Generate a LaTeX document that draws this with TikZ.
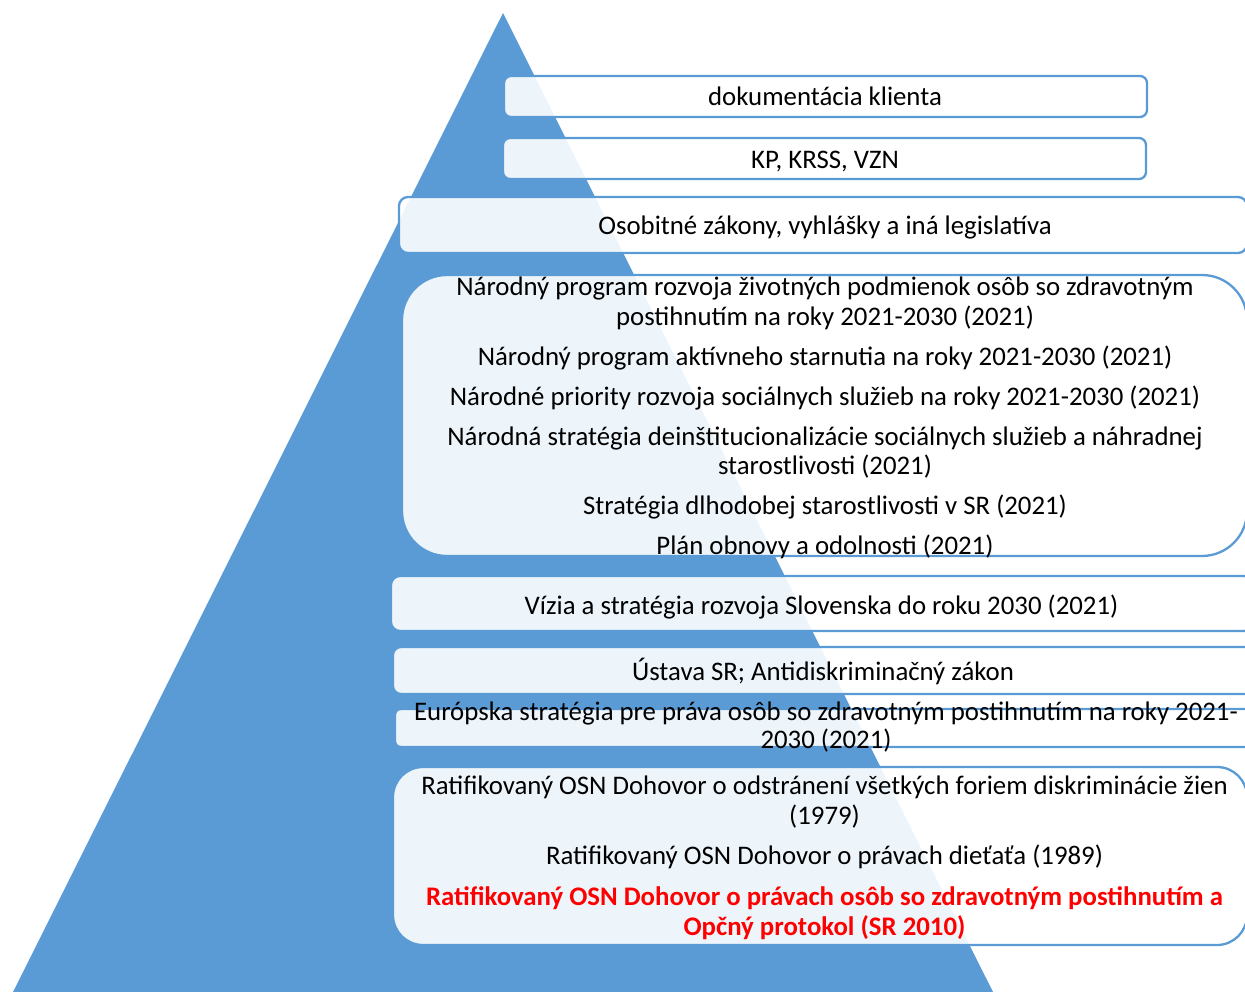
\documentclass[tikz,border=0pt]{standalone}
\usepackage{fontspec}
\setmainfont{Carlito}
\usepackage{xcolor}
\definecolor{pyrblue}{HTML}{5B9BD5}
\definecolor{alertred}{HTML}{FF0000}
\tikzset{
	tierbox/.style={
			draw=pyrblue, line width=2.3pt, fill=white, fill opacity=0.9,
			rounded corners=#1, inner sep=0pt
		},
	tierbox/.default=7pt,
	tiertext/.style={
			align=center, anchor=base, inner sep=0pt,
			font=\fontsize{26.8}{29.5}\selectfont
		}
}

\begin{document}
\begin{tikzpicture}[x=1pt,y=-1pt]
        \useasboundingbox (0,0) rectangle (1245,992);
        \clip (0,0) rectangle (1245,992);
        \coordinate (apex) at (503,13);
        \coordinate (base_l) at (13,992);
        \coordinate (base_r) at (993,992);
        \fill[pyrblue] (apex) -- (base_l) -- (base_r) -- cycle;
        \node[tierbox=7pt, minimum width=643pt, minimum height=41pt] (box_1) at (825.5,96.5) {};
        \node[tierbox=7pt, minimum width=643pt, minimum height=41pt] (box_2) at (824.5,158.5) {};
        \node[tierbox=9pt, minimum width=848pt, minimum height=56pt] (box_3) at (823,225) {};
        \node[tierbox=45pt, minimum width=845pt, minimum height=281pt] (box_4) at (824.5,415.5) {};
        \node[tierbox=9pt, minimum width=862pt, minimum height=55pt] (box_5) at (822,603.5) {};
        \node[tierbox=8pt, minimum width=862pt, minimum height=47pt] (box_6) at (824,670.5) {};
        \node[tierbox=6pt, minimum width=862pt, minimum height=38pt] (box_7) at (826,728) {};
        \node[tierbox=30pt, minimum width=854pt, minimum height=178pt] (box_8) at (820,856) {};
        \node[tiertext] (text_1) at (825,106) {dokumentácia klienta};
        \node[tiertext] (text_2) at (825,168.5) {KP, KRSS, VZN};
        \node[tiertext] (text_3) at (825,235) {Osobitné zákony, vyhlášky a iná legislatíva};
        \node[tiertext] (text_4) at (825,554.5) {Národný program rozvoja životných podmienok osôb so zdravotným\\
                postihnutím na roky 2021-2030 (2021)\\[10.5pt]
                Národný program aktívneho starnutia na roky 2021-2030 (2021)\\[10.5pt]
                Národné priority rozvoja sociálnych služieb na roky 2021-2030 (2021)\\[10.5pt]
                Národná stratégia deinštitucionalizácie sociálnych služieb a náhradnej\\
                starostlivosti (2021)\\[10.5pt]
                Stratégia dlhodobej starostlivosti v SR (2021)\\[10.5pt]
                Plán obnovy a odolnosti (2021)};
        \node[tiertext] (text_5) at (821.5,614) {Vízia a stratégia rozvoja Slovenska do roku 2030 (2021)};
        \node[tiertext] (text_6) at (823,680.5) {Ústava SR; Antidiskriminačný zákon};
        \node[tiertext, font=\fontsize{26.8}{28}\selectfont] (text_7) at (826,748.5) {Európska stratégia pre práva osôb so zdravotným postihnutím na roky 2021-\\
                2030 (2021)};
        \node[tiertext, font=\fontsize{26.8}{30}\selectfont] (text_8) at (824.5,935.5) {Ratifikovaný OSN Dohovor o odstránení všetkých foriem diskriminácie žien\\
                (1979)\\[10pt]
                Ratifikovaný OSN Dohovor o právach dieťaťa (1989)\\[11pt]
                {\color{alertred}\bfseries Ratifikovaný OSN Dohovor o právach osôb so zdravotným postihnutím a}\\
                {\color{alertred}\bfseries Opčný protokol (SR 2010)}};
\end{tikzpicture}
\end{document}
